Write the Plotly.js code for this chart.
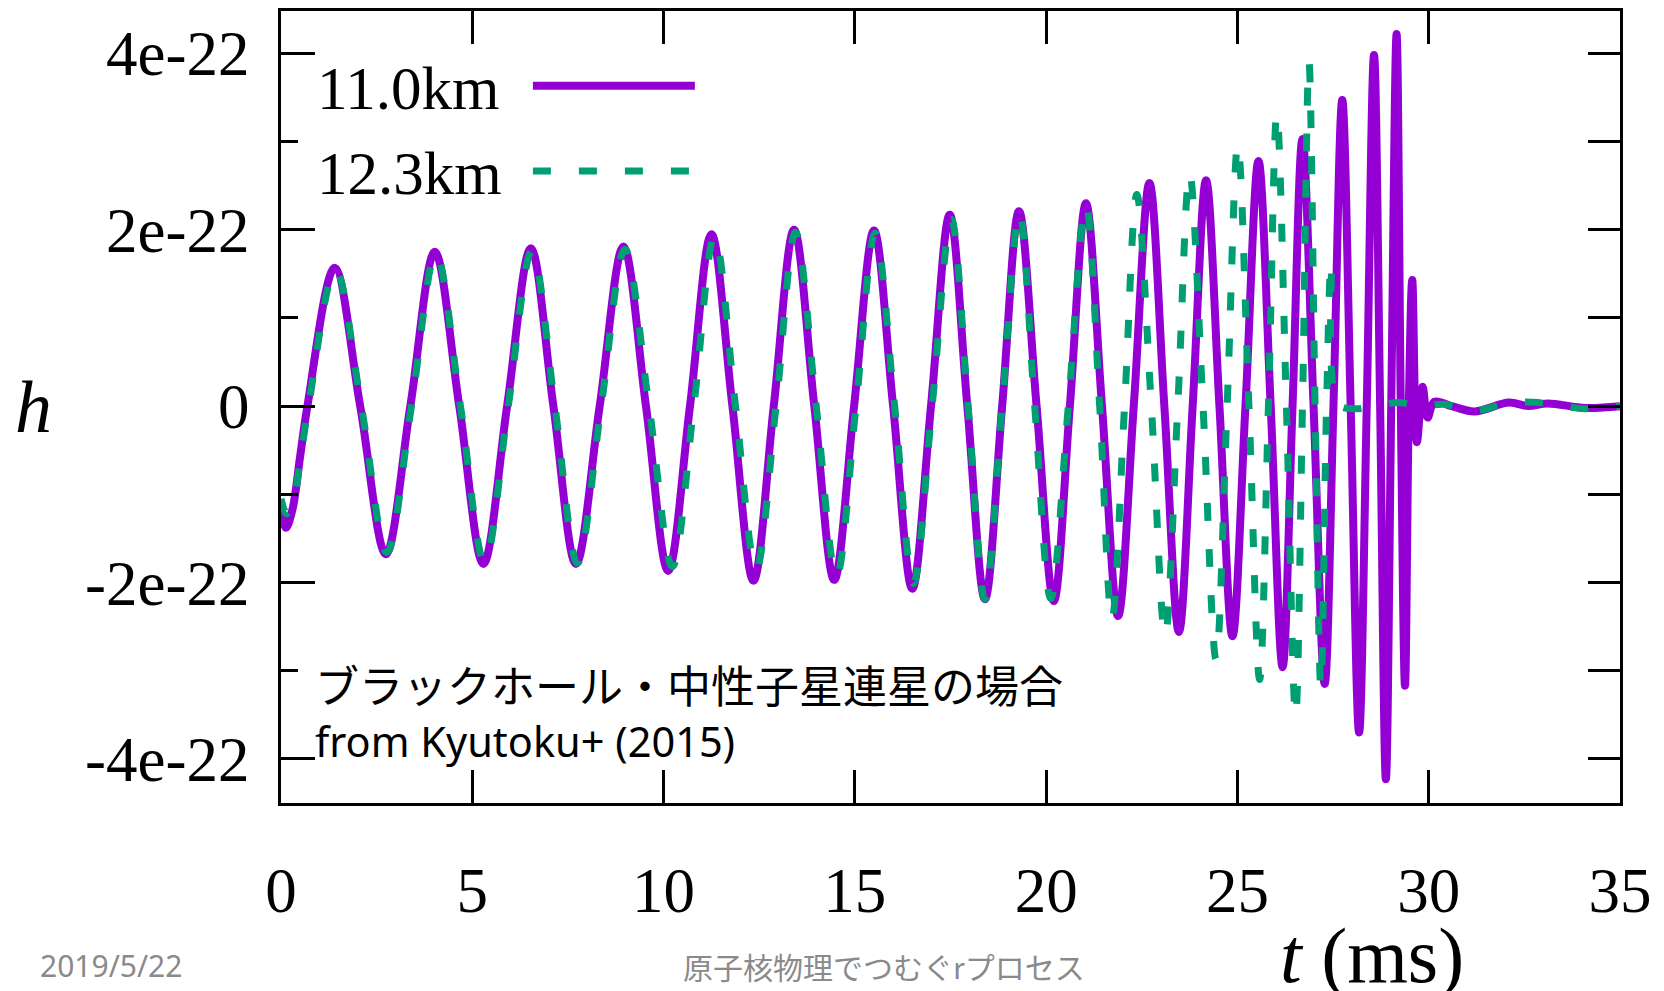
<!DOCTYPE html>
<html><head><meta charset="utf-8">
<script src="https://cdn.plot.ly/plotly-3.0.1.min.js"></script>
<style>html,body{margin:0;padding:0;background:#fff;}#chart{width:1664px;height:991px;}</style>
</head><body><div id="chart"></div>
<script>
// ---- data (h in units of 1e-22, t in ms) ----
const seriesNames = ['11.0km', '12.3km'];
const t110 = [0,0.13,0.30,0.50,0.69,1.40,2.07,2.74,3.38,4.02,4.66,5.29,5.91,6.53,7.12,7.71,8.33,8.95,9.54,10.12,10.69,11.25,11.80,12.35,12.88,13.41,13.94,14.46,14.98,15.50,16.00,16.50,16.99,17.48,17.94,18.40,18.85,19.29,19.75,20.20,20.62,21.04,21.46,21.88,22.29,22.70,23.09,23.47,23.83,24.18,24.53,24.87,25.21,25.55,25.87,26.18,26.44,26.70,26.99,27.28,27.51,27.74,27.96,28.18,28.38,28.57,28.73,28.88,29.02,29.16,29.27,29.38,29.48,29.57,29.69,29.84,29.97,30.15,30.60,31.20,32.10,32.60,33.10,34.10,35.00];
const h110 = [-1.18,-1.38,-1.17,-0.57,0,1.57,0,-1.68,0,1.75,0,-1.79,0,1.79,0,-1.79,0,1.81,0,-1.87,0,1.95,0,-1.98,0,2.00,0,-1.97,0,1.99,0,-2.07,0,2.17,0,-2.19,0,2.21,0,-2.21,0,2.30,0,-2.38,0,2.53,0,-2.56,0,2.56,0,-2.61,0,2.78,0,-2.96,0,3.03,0,-3.15,0,3.47,0,-3.70,0,3.98,0,-4.23,0,4.22,0,-3.17,0,1.43,-0.41,0.22,-0.13,0.05,0.00,-0.06,0.04,0.00,0.03,-0.02,0.00];
const t123 = [0,0.15,0.32,0.52,0.72,1.42,2.10,2.77,3.41,4.05,4.69,5.32,5.94,6.56,7.16,7.75,8.37,8.99,9.62,10.23,10.79,11.33,11.88,12.42,12.94,13.45,13.99,14.52,15.03,15.53,16.04,16.53,17.02,17.52,17.96,18.40,18.85,19.30,19.70,20.12,20.58,21.04,21.40,21.72,22.05,22.37,22.75,23.11,23.44,23.75,24.10,24.44,24.73,25.01,25.30,25.58,25.81,26.03,26.28,26.52,26.70,26.87,27.03,27.18,27.33,27.45,27.62,28.05,28.60,29.20,29.80,30.40,31.20,32.15,33.10,34.10,35.00];
const h123 = [-1.05,-1.22,-1.08,-0.55,0,1.55,0,-1.66,0,1.73,0,-1.77,0,1.76,0,-1.78,0,1.78,0,-1.82,0,1.93,0,-1.85,0,1.97,0,-1.93,0,1.96,0,-2.01,0,2.12,0,-2.19,0,2.20,0,-2.18,0,2.28,0,-2.42,0,2.40,0,-2.60,0,2.64,0,-2.87,0,2.97,0,-3.10,0,3.32,0,-3.52,0,3.90,0,-3.18,0,1.63,0.03,-0.03,0.00,0.04,0.00,0.02,-0.05,0.04,0.03,-0.03,0.00];
const xTickVals = [0,5,10,15,20,25,30,35];
const yMajorTicks = [-4,-2,0,2,4];
const yMajorText = ['-4e-22','-2e-22','0','2e-22','4e-22'];
const yMinorTicks = [-3,-1,1,3];
const yAllTicks = [-4,-3,-2,-1,0,1,2,3,4];
const unit = 1e-22;
const captionJa = 'ブラックホール・中性子星連星の場合';
const captionSrc = 'from Kyutoku+ (2015)';
const footerDate = '2019/5/22';
const footerTitle = '原子核物理でつむぐrプロセス';

// ---- layout helpers (pixel -> paper) ----
const L = 281, R = 1620.5, T = 10.6, B = 803;
const PX = x => (x - L) / (R - L);
const PY = y => (B - y) / (B - T);
const purple = '#9400D3', green = '#009E73';
const serif = 'Liberation Serif, Times New Roman, serif';
const yRange = [-4.5 * unit, 4.48 * unit];

const traces = [
  {x: t110, y: h110.map(v => v * unit), type: 'scatter', mode: 'lines', name: seriesNames[0],
   line: {color: purple, width: 8, shape: 'spline', smoothing: 1}, hoverinfo: 'skip'},
  {x: t123, y: h123.map(v => v * unit), type: 'scatter', mode: 'lines', name: seriesNames[1],
   line: {color: green, width: 7, shape: 'spline', smoothing: 1, dash: '18px,28px'}, hoverinfo: 'skip'},
  {x: [], y: [], yaxis: 'y2', type: 'scatter', mode: 'lines', showlegend: false, hoverinfo: 'skip'}
];

const axisBase = {showgrid: false, zeroline: false, showline: true, linewidth: 3, linecolor: '#000',
  ticks: 'inside', tickwidth: 3, tickcolor: '#000', tickfont: {family: serif, size: 63, color: '#000'}};

const layout = {
  width: 1664, height: 991,
  margin: {l: L, r: 1664 - R, t: T, b: 991 - B, pad: 0},
  paper_bgcolor: '#fff', plot_bgcolor: '#fff', showlegend: false,
  xaxis: Object.assign({}, axisBase, {range: [0, 35], tickmode: 'array', tickvals: xTickVals,
    ticktext: xTickVals.map(String), ticklen: 33, mirror: 'ticks', ticklabelstandoff: 30}),
  yaxis: Object.assign({}, axisBase, {range: yRange, tickmode: 'array', tickvals: yMajorTicks.map(v => v * unit),
    ticktext: yMajorText, ticklen: 34, mirror: false, ticklabelstandoff: 16,
    minor: {tickmode: 'array', tickvals: yMinorTicks.map(v => v * unit), ticks: 'inside', ticklen: 17,
      tickwidth: 3, tickcolor: '#000', showgrid: false}}),
  yaxis2: Object.assign({}, axisBase, {overlaying: 'y', side: 'right', anchor: 'x', range: yRange,
    tickmode: 'array', tickvals: yAllTicks.map(v => v * unit), ticklen: 32, showticklabels: false}),
  shapes: [
    {type: 'line', xref: 'paper', yref: 'paper', x0: PX(533), x1: PX(695), y0: PY(85.5), y1: PY(85.5),
     line: {color: purple, width: 8}},
    {type: 'line', xref: 'paper', yref: 'paper', x0: PX(533), x1: PX(695), y0: PY(170.7), y1: PY(170.7),
     line: {color: green, width: 7, dash: '18px,28px'}}
  ],
  annotations: [
    {text: '<i>h</i>', x: PX(33), y: PY(407), xref: 'paper', yref: 'paper', showarrow: false,
     xanchor: 'center', yanchor: 'middle', font: {family: serif, size: 74, color: '#000'}},
    {text: '<i>t</i> (ms)', x: PX(1372), y: PY(956), xref: 'paper', yref: 'paper', showarrow: false,
     xanchor: 'center', yanchor: 'middle', font: {family: serif, size: 78, color: '#000'}},
    {text: seriesNames[0], x: PX(315), y: PY(88), xref: 'paper', yref: 'paper', showarrow: false,
     xanchor: 'left', yanchor: 'middle', font: {family: serif, size: 61, color: '#000'}},
    {text: seriesNames[1], x: PX(315), y: PY(173), xref: 'paper', yref: 'paper', showarrow: false,
     xanchor: 'left', yanchor: 'middle', font: {family: serif, size: 61, color: '#000'}},
    {text: captionJa, x: PX(313), y: PY(684), xref: 'paper', yref: 'paper', showarrow: false,
     xanchor: 'left', yanchor: 'middle', font: {family: 'Noto Sans CJK JP', size: 44, color: '#000'}},
    {text: captionSrc, x: PX(313), y: PY(741), xref: 'paper', yref: 'paper', showarrow: false,
     xanchor: 'left', yanchor: 'middle', font: {family: 'Noto Sans', size: 41.5, color: '#000'}},
    {text: footerDate, x: PX(38), y: PY(966), xref: 'paper', yref: 'paper', showarrow: false,
     xanchor: 'left', yanchor: 'middle', font: {family: 'Noto Sans', size: 30, color: '#8a8a8a'}},
    {text: footerTitle, x: PX(884), y: PY(966), xref: 'paper', yref: 'paper', showarrow: false,
     xanchor: 'center', yanchor: 'middle', font: {family: 'Noto Sans CJK JP', size: 30, color: '#8a8a8a'}}
  ]
};

Plotly.newPlot('chart', traces, layout, {staticPlot: true, displayModeBar: false});
</script>
</body></html>
